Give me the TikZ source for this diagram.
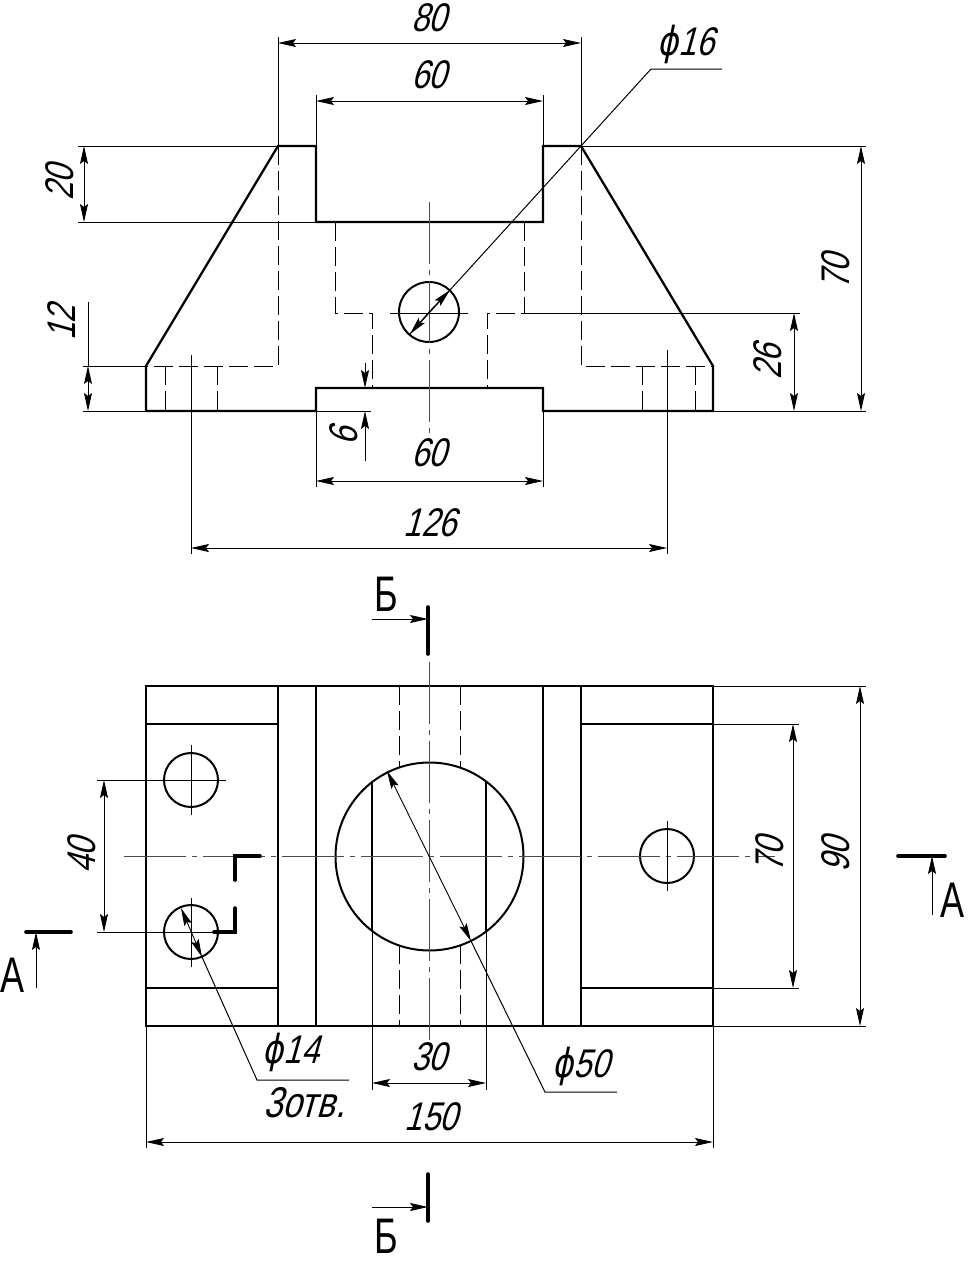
\documentclass[tikz,border=0pt]{standalone}
\usepackage{fontspec}
\usepackage{xcolor}
\usetikzlibrary{arrows.meta}
\newfontfamily\draftfont[FakeSlant=0.28,FakeStretch=0.8]{Liberation Sans}
\newfontfamily\markfont[FakeStretch=0.72]{Liberation Sans}
\newfontfamily\phifont[FakeSlant=0.2,FakeStretch=0.8]{DejaVu Sans}
\tikzset{
  contour/.style={line width=2.3pt,line join=miter},
  hidden/.style={line width=1pt,dash pattern=on 19pt off 6pt},
  thin line/.style={line width=1pt},
  axis line/.style={line width=0.8pt,black!70,dash pattern=on 62pt off 6pt on 5pt off 6pt},
  dim/.style={line width=0.9pt,{Stealth[length=18pt,width=8pt,inset=3pt]}-{Stealth[length=18pt,width=8pt,inset=3pt]}},
  tip/.style={line width=0.9pt,-{Stealth[length=18pt,width=8pt,inset=3pt]}},
  cutline/.style={line width=3.6pt,line cap=round},
  dimtext/.style={font=\draftfont\fontsize{40}{40}\selectfont,inner sep=0pt},
  marktext/.style={font=\markfont\fontsize{50}{50}\selectfont,inner sep=0pt}
}
\begin{document}
\begin{tikzpicture}[x=1pt,y=-1pt]
    \useasboundingbox (0,0) rectangle (969,1267);
    % front view
    \draw[contour] (146,411) -- (146,366) -- (278,146) -- (316,146) -- (316,222) -- (543,222) -- (543,146) -- (581,146) -- (713,366) -- (713,411) -- (543,411) -- (543,388) -- (316,388) -- (316,411) -- cycle;
    \draw[hidden] (278,146) -- (278,366) -- (146,366);
    \draw[hidden] (581,146) -- (581,366) -- (713,366);
    \draw[hidden] (335,222) -- (335,313) -- (372,313) -- (372,388);
    \draw[hidden] (524,222) -- (524,313) -- (487,313) -- (487,388);
    \foreach \x in {165,217,642,695}
        \draw[hidden] (\x,366) -- (\x,411);
    \draw[contour,line width=2pt] (429,312) circle (30);
    \draw[thin line] (390,313) -- (468,313);
    \draw[axis line] (429,202) -- (429,433);
    % front view dimensions
    \draw[thin line] (278,146) -- (278,37) (581,146) -- (581,37);
    \draw[dim] (278,43) -- (581,43);
    \node[dimtext] (t80) at (429,18) {80};
    \draw[thin line] (316,146) -- (316,95) (543,146) -- (543,95);
    \draw[dim] (316,101) -- (543,101);
    \node[dimtext] (t60a) at (429,75) {60};
    \draw[thin line] (581,146) -- (866,146) (713,411) -- (866,411);
    \draw[dim] (861,146) -- (861,411);
    \node[dimtext,rotate=90] (t70a) at (836,272) {70};
    \draw[thin line] (524,313) -- (800,313) (713,411) -- (800,411);
    \draw[dim] (794,313) -- (794,411);
    \node[dimtext,rotate=90] (t26) at (768,362) {26};
    \draw[thin line] (278,146) -- (78,146) (316,222) -- (78,222);
    \draw[dim] (84,146) -- (84,222);
    \node[dimtext,rotate=90] (t20) at (60,183) {20};
    \draw[thin line] (146,366) -- (83,366) (146,411) -- (83,411);
    \draw[thin line] (88,302) -- (88,366);
    \draw[dim] (88,366) -- (88,411);
    \node[dimtext,rotate=90] (t12) at (62,323) {12};
    \draw[thin line] (316,411) -- (371,411);
    \draw[tip] (365,363) -- (365,388);
    \draw[tip] (365,461) -- (365,411);
    \node[dimtext,rotate=90] (t6) at (344,437) {6};
    \draw[thin line] (316,411) -- (316,487) (543,411) -- (543,487);
    \draw[dim] (316,481) -- (543,481);
    \node[dimtext] (t60b) at (429,453) {60};
    \draw[thin line] (191,355) -- (191,554) (667,350) -- (667,554);
    \draw[dim] (191,548) -- (667,548);
    \node[dimtext] (t126) at (430,523) {126};
    \draw[tip] (429,312) -- (450,290);
    \draw[tip] (429,312) -- (410,334);
    \draw[thin line] (410,334) -- (651,69) -- (722,69);
    \node[dimtext] (t16) at (686,44) {{\phifont\char"03D5}16};
    % plan view
    \draw[contour] (146,686) rectangle (713,1026);
    \foreach \x in {278,316,543,581}
        \draw[contour] (\x,686) -- (\x,1026);
    \foreach \y in {724,988} {
        \draw[contour] (146,\y) -- (278,\y);
        \draw[contour] (581,\y) -- (713,\y);
    }
    \draw[hidden] (399,686) -- (399,768) (460,686) -- (460,768);
    \draw[hidden] (399,945) -- (399,1026) (460,945) -- (460,1026);
    \draw[contour,line width=2pt] (429.5,856.5) circle (94);
    \draw[contour,line width=2pt] (372,782) -- (372,931) (486,782) -- (486,931);
    \draw[contour,line width=2pt] (191,780) circle (27) (191,932) circle (27) (667,856) circle (27);
    \draw[axis line] (124,856) -- (775,856);
    \draw[axis line] (429,662) -- (429,1040);
    \draw[thin line] (191,745) -- (191,815) (156,780) -- (226,780);
    \draw[thin line] (191,898) -- (191,967) (156,932) -- (214,932);
    \draw[thin line] (667,821) -- (667,891);
    % section marks
    \draw[cutline] (235,880) -- (235,856) -- (260,856);
    \draw[cutline] (235,908) -- (235,932) -- (214,932);
    \draw[cutline] (26,932) -- (71,932);
    \draw[tip] (36,988) -- (36,932);
    \node[marktext] (markA) at (13,975) {А};
    \draw[cutline] (898,856) -- (945,856);
    \draw[tip] (932,915) -- (932,856);
    \node[marktext] (markB) at (952,900) {А};
    \draw[cutline] (428,607) -- (428,654);
    \draw[tip] (372,619) -- (428,619);
    \node[marktext] (markC) at (386,594) {Б};
    \draw[cutline] (428,1174) -- (428,1221);
    \draw[tip] (372,1207) -- (428,1207);
    \node[marktext] (markD) at (386,1236) {Б};
    % plan view dimensions
    \draw[thin line] (191,780) -- (97,780) (191,932) -- (97,932);
    \draw[dim] (104,780) -- (104,932);
    \node[dimtext,rotate=90] (t40) at (82,856) {40};
    \draw[thin line] (713,724) -- (799,724) (713,988) -- (799,988);
    \draw[dim] (793,724) -- (793,988);
    \node[dimtext,rotate=90] (t70b) at (770,855) {70};
    \draw[thin line] (713,686) -- (866,686) (713,1026) -- (866,1026);
    \draw[dim] (860,686) -- (860,1026);
    \node[dimtext,rotate=90] (t90) at (836,855) {90};
    \draw[thin line] (372,932) -- (372,1090) (486,932) -- (486,1090);
    \draw[dim] (372,1083) -- (486,1083);
    \node[dimtext] (t30) at (429,1057) {30};
    \draw[thin line] (146,1026) -- (146,1148) (713,1026) -- (713,1148);
    \draw[dim] (146,1142) -- (713,1142);
    \node[dimtext] (t150) at (431,1117) {150};
    \draw[dim] (387,771) -- (471,941);
    \draw[thin line] (471,941) -- (545,1092) -- (617,1092);
    \node[dimtext] (t50) at (581,1066) {{\phifont\char"03D5}50};
    \draw[dim] (181,908) -- (202,957);
    \draw[thin line] (202,957) -- (257,1080) -- (349,1080);
    \node[dimtext] (t14) at (291,1052) {{\phifont\char"03D5}14};
    \node[dimtext,font=\draftfont\fontsize{43}{43}\selectfont] (tholes) at (304,1103) {3отв.};
\end{tikzpicture}
\end{document}
